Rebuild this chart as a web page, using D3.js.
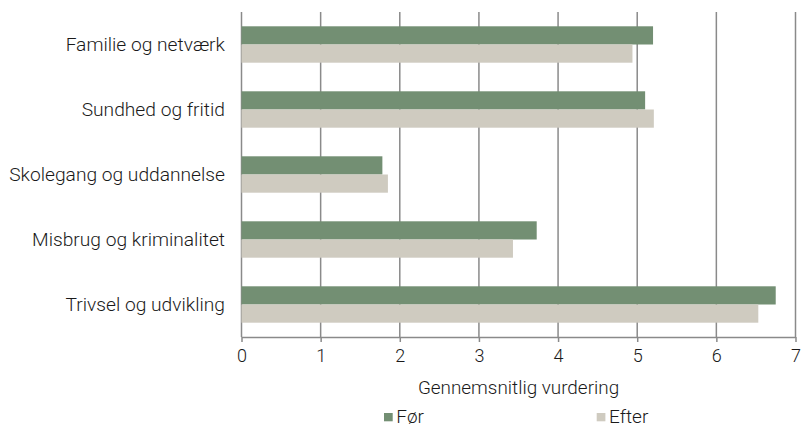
<!DOCTYPE html>
<html>
<head>
<meta charset="utf-8">
<script src="https://cdn.jsdelivr.net/npm/d3@7/dist/d3.min.js"></script>
<style>
  html, body { margin: 0; padding: 0; background: #fff; }
  svg text { font-family: Roboto, "Liberation Sans", sans-serif; font-weight: 300; fill: #1a1a1a; }
</style>
</head>
<body>
<svg id="chart" width="801" height="427"></svg>
<script>
// Kategorier og gennemsnitlige vurderinger
const categories = ["Familie og netværk", "Sundhed og fritid", "Skolegang og uddannelse", "Misbrug og kriminalitet", "Trivsel og udvikling"];
const seriesNames = ["Før", "Efter"];
const valuesFoer = [5.20, 5.10, 1.78, 3.73, 6.75];
const valuesEfter = [4.94, 5.21, 1.85, 3.43, 6.53];
const xTicks = [0, 1, 2, 3, 4, 5, 6, 7];
const colors = ["#738f73", "#cfcbc0"];

const svg = d3.select("#chart");
const margin = { left: 241.5, right: 5.5, top: 12, bottom: 90 };
const W = 801, H = 427;

const x = d3.scaleLinear().domain([0, 7]).range([margin.left, W - margin.right]);
const y = d3.scaleBand().domain(categories).range([margin.top, H - margin.bottom]).paddingInner(0.44).paddingOuter(0.22);
const ySub = d3.scaleBand().domain(seriesNames).range([0, y.bandwidth()]);

// Lodrette gitterlinjer
svg.append("g")
  .selectAll("line")
  .data(xTicks)
  .join("line")
  .attr("x1", d => x(d)).attr("x2", d => x(d))
  .attr("y1", margin.top).attr("y2", H - margin.bottom)
  .attr("stroke", "#8a8a8a").attr("stroke-width", 1.5);

// Søjler
const rows = categories.map((c, i) => ({ cat: c, vals: [valuesFoer[i], valuesEfter[i]] }));
const groups = svg.append("g").selectAll("g")
  .data(rows).join("g")
  .attr("transform", d => `translate(0,${y(d.cat)})`);
groups.selectAll("rect")
  .data(d => d.vals.map((v, j) => ({ name: seriesNames[j], v, j })))
  .join("rect")
  .attr("x", x(0))
  .attr("y", d => ySub(d.name))
  .attr("width", d => x(d.v) - x(0))
  .attr("height", ySub.bandwidth())
  .attr("fill", d => colors[d.j]);

// X-akse
const xAxis = svg.append("g")
  .attr("transform", `translate(0,${H - margin.bottom})`)
  .call(d3.axisBottom(x).tickValues(xTicks).tickFormat(d3.format("d")).tickSize(5).tickSizeOuter(0).tickPadding(7));
xAxis.select(".domain").attr("stroke", "#8a8a8a").attr("stroke-width", 1.5);
xAxis.selectAll(".tick line").attr("stroke", "#8a8a8a").attr("stroke-width", 1.5);
xAxis.selectAll(".tick text").style("font-size", "18px").attr("fill", "#1a1a1a");

// Y-akse (kun etiketter)
const yAxis = svg.append("g")
  .attr("transform", `translate(${margin.left},0)`)
  .call(d3.axisLeft(y).tickSize(0).tickPadding(16.5));
yAxis.select(".domain").remove();
yAxis.selectAll(".tick text").style("font-size", "19.2px").attr("fill", "#1a1a1a");

// Aksetitel
svg.append("text")
  .attr("x", (x(0) + x(7)) / 2)
  .attr("y", 394)
  .attr("text-anchor", "middle")
  .style("font-size", "18.9px")
  .text("Gennemsnitlig vurdering");

// Forklaring
const legendX = [384, 596.7];
const legend = svg.append("g").selectAll("g")
  .data(seriesNames).join("g")
  .attr("transform", (d, i) => `translate(${legendX[i]},0)`);
legend.append("rect")
  .attr("x", 0).attr("y", 413).attr("width", 8.7).attr("height", 8.3)
  .attr("fill", (d, i) => colors[i]);
legend.append("text")
  .attr("x", 12.3).attr("y", 422.5)
  .style("font-size", "19px")
  .text(d => d);
</script>
</body>
</html>
